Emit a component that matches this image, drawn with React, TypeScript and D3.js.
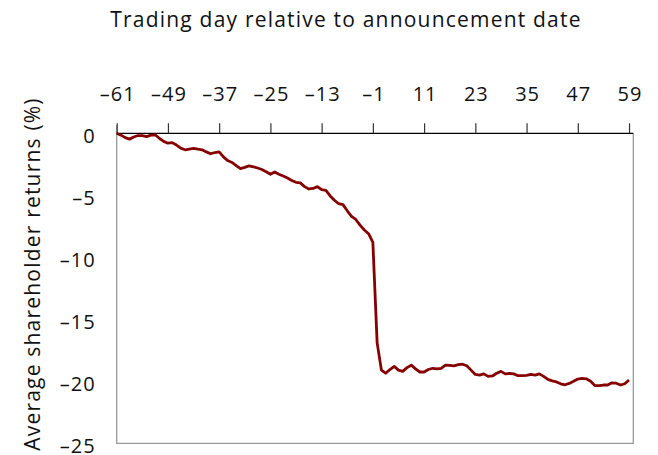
import React, { useEffect, useRef } from 'react';
import * as d3 from 'd3';

// trading days relative to the announcement date
const days: number[] = d3.range(-61, 60);

// average cumulative shareholder returns (%), one per day
const returns: number[] = [
  0, -0.15, -0.35, -0.47, -0.3, -0.18, -0.18, -0.27, -0.15, -0.12,
  -0.4, -0.65, -0.8, -0.75, -0.95, -1.2, -1.33, -1.27, -1.22, -1.28,
  -1.33, -1.5, -1.65, -1.55, -1.5, -1.9, -2.2, -2.35, -2.6, -2.85,
  -2.75, -2.62, -2.7, -2.8, -2.92, -3.1, -3.3, -3.12, -3.3, -3.45,
  -3.6, -3.8, -3.95, -4.0, -4.3, -4.49, -4.45, -4.3, -4.55, -4.6,
  -5.05, -5.4, -5.68, -5.75, -6.25, -6.7, -6.95, -7.4, -7.8, -8.1,
  -8.8, -16.9, -19.1, -19.35, -19.05, -18.8, -19.1, -19.2, -18.9, -18.7,
  -19.0, -19.25, -19.25, -19.05, -18.95, -19.0, -18.95, -18.7, -18.72, -18.75,
  -18.65, -18.62, -18.75, -19.1, -19.45, -19.5, -19.4, -19.6, -19.57, -19.35,
  -19.2, -19.4, -19.37, -19.4, -19.55, -19.55, -19.53, -19.45, -19.5, -19.4,
  -19.6, -19.85, -19.96, -20.05, -20.2, -20.28, -20.17, -20.0, -19.82, -19.77,
  -19.8, -20.0, -20.35, -20.35, -20.3, -20.3, -20.12, -20.15, -20.3, -20.2,
  -19.9,
];

const xTicks: number[] = [-61, -49, -37, -25, -13, -1, 11, 23, 35, 47, 59];
const yTicks: number[] = [0, -5, -10, -15, -20, -25];

const xTitle = 'Trading day relative to announcement date';
const yTitle = 'Average shareholder returns (%)';

const W = 658;
const H = 455;
const FONT = '"Open Sans", "DejaVu Sans", sans-serif';

const App = () => {
  const svgRef = useRef<SVGSVGElement>(null);

  useEffect(() => {
    if (!svgRef.current) return;
    const svg = d3.select(svgRef.current);
    svg.selectAll('*').remove();

    const left = 116.7, right = 633.3, top = 133.3, bottom = 443.3;

    const x = d3.scaleLinear().domain([-61, 60]).range([left, right]);
    const y = d3.scaleLinear().domain([0, -25]).range([top, bottom]);

    svg.append('rect').attr('width', W).attr('height', H).attr('fill', '#fff');

    // plot frame: grey left, right and bottom
    svg.append('path')
      .attr('d', `M${left},${top - 8}V${bottom}H${right}V${top}`)
      .attr('fill', 'none')
      .attr('stroke', '#9a9a9a')
      .attr('stroke-width', 1.3);

    // top axis
    const xAxis = d3.axisTop(x)
      .tickValues(xTicks)
      .tickSize(10)
      .tickSizeOuter(0)
      .tickPadding(22)
      .tickFormat(d => String(d).replace('-', '\u2013'));
    const gx = svg.append('g').attr('transform', `translate(0,${top})`).call(xAxis);
    gx.select('.domain').attr('stroke', '#000').attr('stroke-width', 1.3)
      .attr('d', `M${left},0H${right}`);
    gx.selectAll('.tick line').attr('stroke', '#333').attr('stroke-width', 1.2);
    gx.selectAll('.tick text')
      .attr('font-family', FONT)
      .attr('font-size', 20)
      .attr('letter-spacing', 1)
      .attr('dx', 0.5)
      .attr('fill', '#111');

    // left axis labels only
    const yAxis = d3.axisLeft(y)
      .tickValues(yTicks)
      .tickSize(0)
      .tickPadding(21)
      .tickFormat(d => String(d).replace('-', '\u2013'));
    const gy = svg.append('g').attr('transform', `translate(${left},0)`).call(yAxis);
    gy.select('.domain').remove();
    gy.selectAll('.tick text')
      .attr('font-family', FONT)
      .attr('font-size', 20)
      .attr('letter-spacing', 1)
      .attr('fill', '#111')
      .attr('dy', '0.48em');

    const line = d3.line<number>()
      .x((_, i) => x(days[i]))
      .y(d => y(d));

    svg.append('path')
      .datum(returns)
      .attr('d', line)
      .attr('fill', 'none')
      .attr('stroke', '#850000')
      .attr('stroke-width', 2.8)
      .attr('stroke-linejoin', 'round');

    svg.append('text')
      .attr('x', 346)
      .attr('y', 27)
      .attr('text-anchor', 'middle')
      .attr('font-family', FONT)
      .attr('font-size', 21)
      .attr('letter-spacing', 1.2)
      .attr('fill', '#111')
      .text(xTitle);

    svg.append('text')
      .attr('transform', `translate(40,274) rotate(-90)`)
      .attr('text-anchor', 'middle')
      .attr('font-family', FONT)
      .attr('font-size', 21)
      .attr('letter-spacing', 1.2)
      .attr('fill', '#111')
      .text(yTitle);
  }, []);

  return (
    <svg
      ref={svgRef}
      width={W}
      height={H}
      style={{ position: 'absolute', left: 0, top: 0, display: 'block' }}
    />
  );
};

export default App;
